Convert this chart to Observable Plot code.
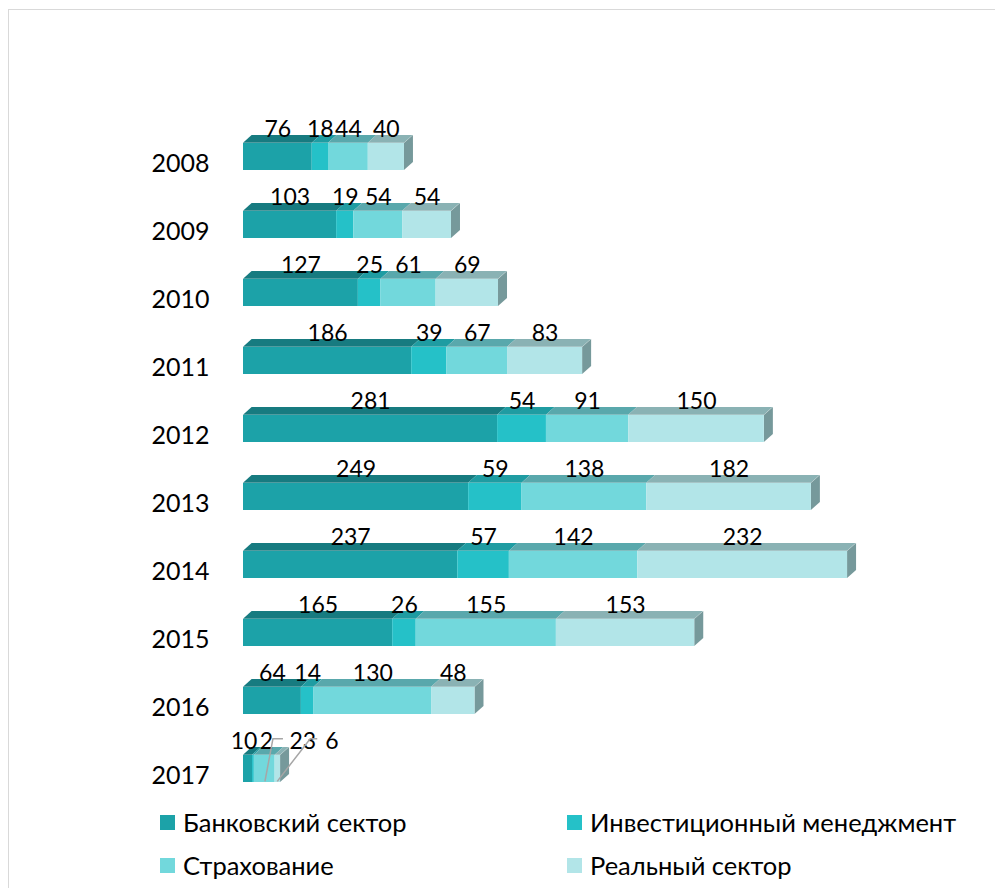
<!DOCTYPE html>
<html><head><meta charset="utf-8">
<script src="https://cdn.jsdelivr.net/npm/d3@7"></script>
<script src="https://cdn.jsdelivr.net/npm/@observablehq/plot@0.6"></script>
<style>
html,body{margin:0;padding:0;background:#fff;width:995px;height:888px;overflow:hidden;font-family:Lato,"Open Sans",sans-serif;}
#frame{position:absolute;left:8px;top:9px;width:1100px;height:1000px;border:1.5px solid #d9d9d9;box-sizing:border-box;}
#chart{position:absolute;left:0;top:0;}
.legend-item{position:absolute;display:flex;align-items:center;height:30px;font-size:25.5px;color:#000;white-space:nowrap;}
.sw{width:15px;height:15px;margin-right:8px;flex:none;}
</style></head><body>
<div id="frame"></div>
<div id="chart"></div>
<div id="legend"></div>
<script>
// ---- data ----
const years = ["2008","2009","2010","2011","2012","2013","2014","2015","2016","2017"];
const seriesNames = ["Банковский сектор","Инвестиционный менеджмент","Страхование","Реальный сектор"];
const banking   = [76,103,127,186,281,249,237,165,64,10];
const investment= [18,19,25,39,54,59,57,26,14,2];
const insurance = [44,54,61,67,91,138,142,155,130,23];
const realSector= [40,54,69,83,150,182,232,153,48,6];

// ---- styles ----
const frontColors = ["#1ca2a8","#25c1c8","#72d8dc","#b2e5e8"];
const topColors   = ["#177b80","#1f9ca2","#59a8ac","#8ab2b4"];
const sideColor = "#76999b";
const font = "Lato, 'Open Sans', sans-serif";
const depthX = 9, depthY = 8;
const label2017Shift = [-4, 13, 38, 54];

const seriesValues = [banking, investment, insurance, realSector];
const rows = [];
years.forEach((y, i) => seriesNames.forEach((s, j) => rows.push({year: y, series: s, si: j, value: seriesValues[j][i]})));
const totals = years.map((y, i) => ({year: y, total: seriesValues.reduce((a, arr) => a + arr[i], 0)}));

const padding = 0.6, yTop = 100, yBottom = 825;
const step = (yBottom - yTop) / (years.length - padding + 2 * padding);
const bw = step * (1 - padding);

const mainRows = rows.filter(d => d.year !== "2017");
const rows2017 = rows.filter(d => d.year === "2017");
let acc = 0;
rows2017.forEach(d => { d.mid = acc + d.value / 2; acc += d.value; });

const marks = [
  Plot.barX(rows, Plot.stackX({x: "value", y: "year", z: "series", fill: d => topColors[d.si], insetTop: -depthY, insetBottom: bw})),
  Plot.barX(totals, {x1: "total", x2: "total", y: "year", fill: sideColor, insetRight: -depthX}),
  Plot.barX(rows, Plot.stackX({x: "value", y: "year", z: "series", fill: d => frontColors[d.si]})),
  Plot.text(mainRows, Plot.stackX({x: "value", y: "year", z: "series", text: d => String(d.value), dy: -27, fontSize: 23, fill: "#000", fontFamily: font})),
  Plot.text(years, {x: 0, y: d => d, text: d => d, textAnchor: "end", dx: -34, dy: 7, fontSize: 25, fill: "#000", fontFamily: font})
];
rows2017.forEach((d, k) => {
  marks.push(Plot.text([d], {x: "mid", y: "year", text: r => String(r.value), dx: label2017Shift[k], dy: -27, fontSize: 23, fill: "#000", fontFamily: font}));
});

const chart = Plot.plot({
  width: 995, height: 830,
  marginLeft: 243, marginRight: 119, marginTop: yTop, marginBottom: 830 - yBottom,
  x: {domain: [0, 700], axis: null},
  y: {type: "band", domain: years, padding: padding, axis: null},
  style: {background: "transparent", fontFamily: font},
  marks
});
document.getElementById("chart").appendChild(chart);

const svgNode = chart.tagName.toLowerCase() === "svg" ? chart : chart.querySelector("svg");
const groups = Array.from(svgNode.children).filter(n => n.tagName.toLowerCase() === "g");
const angTop = Math.atan(depthX / depthY) * 180 / Math.PI;
const angSide = Math.atan(depthY / depthX) * 180 / Math.PI;
groups[0].querySelectorAll("rect").forEach(r => {
  const yb = +r.getAttribute("y") + +r.getAttribute("height");
  r.setAttribute("transform", `translate(0,${yb}) skewX(${-angTop}) translate(0,${-yb})`);
});
groups[1].querySelectorAll("rect").forEach(r => {
  const x = +r.getAttribute("x");
  r.setAttribute("transform", `translate(${x},0) skewY(${-angSide}) translate(${-x},0)`);
});

// leader lines for the small 2017 labels
const xs = chart.scale("x"), ys = chart.scale("y");
const xp = v => xs.apply ? xs.apply(v) : 243 + (v / 700) * (995 - 119 - 243);
const yBand = ys.apply ? ys.apply("2017") : yTop + padding * step + 9 * step;
const yBandBottom = yBand + bw;
const labelY = yBand + bw / 2 - 27;
const leaders = [
  {k: 1, from: -1, a: 7, b: 17},
  {k: 2, from: -25, a: 8, b: 15}
];
const lg = d3.select(svgNode).append("g").attr("fill", "none").attr("stroke", "#a6a6a6").attr("stroke-width", 1.5);
leaders.forEach(L => {
  const d = rows2017[L.k];
  const lx = xp(d.mid) + label2017Shift[L.k];
  lg.append("path").attr("d", `M${lx + L.from},${yBandBottom - 1}L${lx + L.a},${labelY - 3}L${lx + L.b},${labelY - 3}`);
});

// legend
const legendPos = [[160, 807], [567, 807], [160, 850], [567, 850]];
const legend = document.getElementById("legend");
seriesNames.forEach((s, j) => {
  const it = document.createElement("div");
  it.className = "legend-item";
  it.style.left = legendPos[j][0] + "px";
  it.style.top = legendPos[j][1] + "px";
  it.innerHTML = `<span class="sw" style="background:${frontColors[j]}"></span><span>${s}</span>`;
  legend.appendChild(it);
});
</script>
</body></html>
